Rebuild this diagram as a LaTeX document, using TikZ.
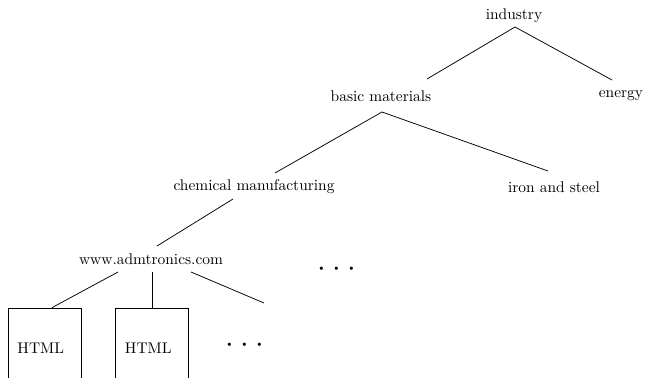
\documentclass[tikz,border=0pt]{standalone}
\usetikzlibrary{calc}
\tikzset{
  label/.style={inner sep=0pt, font=\fontsize{10.3}{12.4}\selectfont},
  page/.style={draw, line width=0.5pt, minimum width=48.67pt, minimum height=53.33pt,
    inner sep=0pt, font=\fontsize{10.3}{12.4}\selectfont},
  edge/.style={line width=0.5pt},
  ellipsis/.style={inner sep=0pt, font=\huge}
}
\newcommand{\spreaddots}{$\cdot$\hspace{4.4pt}$\cdot$\hspace{4.4pt}$\cdot$}
\begin{document}
\begin{tikzpicture}[x=0.6667pt, y=-0.6667pt]
  \useasboundingbox (0,0) rectangle (645,378);
  \clip (0,0) rectangle (645,378);

  % taxonomy levels
  \node[label] (ind)   at (514,16)  {industry};
  \node[label] (bm)    at (381,96)  {basic materials};
  \node[label] (en)    at (621,96)  {energy};
  \node[label] (chem)  at (254,187) {chemical manufacturing};
  \node[label] (iron)  at (554,187) {iron and steel};
  \node[label] (www)   at (151,259) {www.admtronics.com};
  \node[ellipsis] (dotsA) at (337,270) {\spreaddots};

  % pages of the site
  \node[page] (p1) at (44.5,348) {\hspace*{-5pt}HTML};
  \node[page] (p2) at (152,348)  {\hspace*{-5pt}HTML};
  \node[ellipsis] (dotsB) at (245,346) {\spreaddots};
  \coordinate (more) at (264,303);

  % connectors
  \draw[edge] ($(ind)+(1,11)$) -- ($(bm)+(46,-17)$);
  \draw[edge] ($(ind)+(1,11)$) -- ($(en)+(-9,-16)$);
  \draw[edge] ($(bm)+(1,16)$) -- ($(chem)+(21,-14)$);
  \draw[edge] ($(bm)+(1,16)$) -- ($(iron)+(-6,-16)$);
  \draw[edge] ($(chem)+(-21,12)$) -- ($(www)+(6,-13)$);
  \draw[edge] ($(www)+(-33,13)$) -- ($(p1.north)+(7.5,0)$);
  \draw[edge] ($(www)+(1,13)$) -- (p2.north);
  \draw[edge] ($(www)+(40,13)$) -- (more);
\end{tikzpicture}
\end{document}
